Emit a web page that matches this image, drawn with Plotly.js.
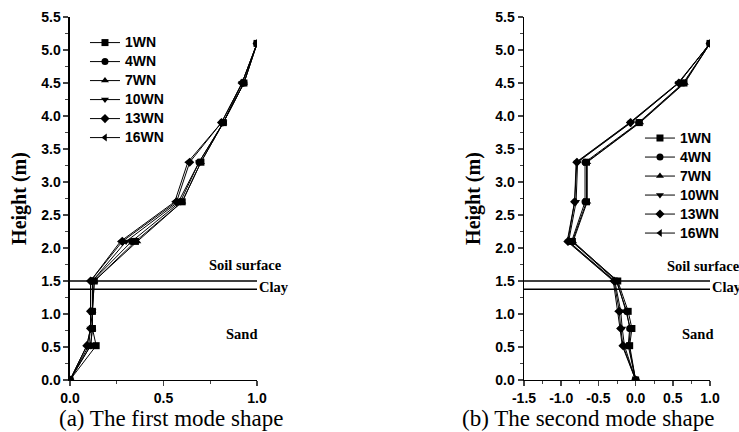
<!DOCTYPE html>
<html>
<head>
<meta charset="utf-8">
<script src="https://cdn.plot.ly/plotly-3.0.1.min.js"></script>
<style>html,body{margin:0;padding:0;background:#fff;}#chart{width:739px;height:432px;}</style>
</head>
<body>
<div id="chart"></div>
<script>
// ---- data ----
const heights = [0, 0.52, 0.78, 1.04, 1.5, 2.1, 2.7, 3.3, 3.9, 4.5, 5.1];
const seriesNames = ["1WN", "4WN", "7WN", "10WN", "13WN", "16WN"];
const mode1_1WN  = [0, 0.14, 0.12, 0.12, 0.13, 0.35, 0.60, 0.70, 0.82, 0.93, 1.0];
const mode1_4WN  = [0, 0.11, 0.12, 0.12, 0.12, 0.33, 0.59, 0.69, 0.82, 0.93, 1.0];
const mode1_7WN  = [0, 0.11, 0.12, 0.12, 0.13, 0.36, 0.60, 0.70, 0.82, 0.93, 1.0];
const mode1_10WN = [0, 0.10, 0.11, 0.12, 0.12, 0.30, 0.58, 0.69, 0.82, 0.92, 1.0];
const mode1_13WN = [0, 0.09, 0.11, 0.11, 0.11, 0.28, 0.57, 0.64, 0.81, 0.92, 1.0];
const mode1_16WN = [0, 0.09, 0.11, 0.11, 0.11, 0.27, 0.56, 0.63, 0.81, 0.92, 1.0];
const mode2_1WN  = [0, -0.08, -0.05, -0.10, -0.24, -0.85, -0.66, -0.66, 0.05, 0.65, 1.0];
const mode2_4WN  = [0, -0.10, -0.08, -0.12, -0.26, -0.86, -0.68, -0.68, 0.04, 0.64, 1.0];
const mode2_7WN  = [0, -0.09, -0.07, -0.13, -0.25, -0.84, -0.65, -0.65, 0.06, 0.66, 1.0];
const mode2_10WN = [0, -0.15, -0.18, -0.20, -0.28, -0.90, -0.80, -0.78, -0.06, 0.58, 1.0];
const mode2_13WN = [0, -0.17, -0.20, -0.22, -0.29, -0.91, -0.82, -0.79, -0.07, 0.58, 1.0];
const mode2_16WN = [0, -0.18, -0.21, -0.24, -0.30, -0.92, -0.82, -0.80, -0.08, 0.57, 1.0];
const soilSurface = 1.5;
const clayTop = 1.375;
const xTicks1 = [0, 0.5, 1.0];
const xTickLabels1 = ["0.0", "0.5", "1.0"];
const xTicks2 = [-1.5, -1.0, -0.5, 0, 0.5, 1.0];
const xTickLabels2 = ["-1.5", "-1.0", "-0.5", "0.0", "0.5", "1.0"];
const yTicks = [0, 0.5, 1, 1.5, 2, 2.5, 3, 3.5, 4, 4.5, 5, 5.5];
const yTickLabels = ["0.0","0.5","1.0","1.5","2.0","2.5","3.0","3.5","4.0","4.5","5.0","5.5"];
const yTitle = "Height (m)";
const caption1 = "(a) The first mode shape";
const caption2 = "(b) The second mode shape";

const mode1 = [mode1_1WN, mode1_4WN, mode1_7WN, mode1_10WN, mode1_13WN, mode1_16WN];
const mode2 = [mode2_1WN, mode2_4WN, mode2_7WN, mode2_10WN, mode2_13WN, mode2_16WN];
const symbols = ["square", "circle", "triangle-up", "triangle-down", "diamond", "triangle-left"];
const bold = s => "<b>" + s + "</b>";
const legName = s => '<span style="font-size:14px"><b>' + s + "</b></span>";

const traces = [];
mode1.forEach((xs, i) => traces.push({
  x: xs, y: heights, name: legName(seriesNames[i]), type: "scatter", mode: "lines+markers",
  xaxis: "x", yaxis: "y", legend: "legend",
  line: {color: "#000", width: 1}, marker: {symbol: symbols[i], size: 7, color: "#000"}
}));
mode2.forEach((xs, i) => traces.push({
  x: xs, y: heights, name: legName(seriesNames[i]), type: "scatter", mode: "lines+markers",
  xaxis: "x2", yaxis: "y2", legend: "legend2",
  line: {color: "#000", width: 1}, marker: {symbol: symbols[i], size: 7, color: "#000"}
}));
// boundary lines
[["x","y",0,1.0],["x2","y2",-1.5,1.0]].forEach(a => {
  [soilSurface, clayTop].forEach(h => traces.push({
    x: [a[2], a[3]], y: [h, h], type: "scatter", mode: "lines", xaxis: a[0], yaxis: a[1],
    showlegend: false, hoverinfo: "skip", line: {color: "#000", width: 1.5}, cliponaxis: false
  }));
});

const tickFont = {family: "Liberation Sans, Arial, sans-serif", size: 14, color: "#000"};
const titleFont = {family: "Liberation Serif, Times New Roman, serif", size: 20, color: "#000"};
const labelFont = {family: "Liberation Serif, Times New Roman, serif", size: 14.5, color: "#000"};
const captionFont = {family: "Liberation Serif, Times New Roman, serif", size: 23, color: "#000"};

function yax(anchor) {
  return {domain: [0.1204, 0.9606], anchor: anchor, range: [0, 5.5], tickmode: "array",
    tickvals: yTicks, ticktext: yTickLabels.map(bold), ticks: "outside", ticklen: 5, tickwidth: 1.5,
    minor: {dtick: 0.25, ticks: "outside", ticklen: 3, tickwidth: 1},
    showline: true, linewidth: 1.5, linecolor: "#000", showgrid: false, zeroline: false,
    tickfont: tickFont, title: {text: bold(yTitle), font: titleFont, standoff: 9}};
}
function xax(dom, anchor, rng, tv, tt) {
  return {domain: dom, anchor: anchor, range: rng, tickmode: "array", tickvals: tv, ticktext: tt.map(bold),
    ticks: "outside", ticklen: 5, tickwidth: 1.5,
    minor: {dtick: 0.25, ticks: "outside", ticklen: 3, tickwidth: 1},
    showline: true, linewidth: 1.5, linecolor: "#000", showgrid: false, zeroline: false,
    tickfont: tickFont};
}
const legFont = {family: "Liberation Sans, Arial, sans-serif", size: 11.7, color: "#000"};

const layout = {
  width: 739, height: 432, margin: {l: 0, r: 0, t: 0, b: 0},
  paper_bgcolor: "#fff", plot_bgcolor: "#fff", showlegend: true,
  xaxis: xax([0.0947, 0.3478], "y", [0, 1.0], xTicks1, xTickLabels1),
  yaxis: yax("x"),
  xaxis2: xax([0.7091, 0.9608], "y2", [-1.5, 1.0], xTicks2, xTickLabels2),
  yaxis2: yax("x2"),
  legend: {x: 0.115, y: 0.935, xanchor: "left", yanchor: "top", bgcolor: "rgba(0,0,0,0)",
    font: legFont, tracegroupgap: 0, itemwidth: 30},
  legend2: {x: 0.866, y: 0.714, xanchor: "left", yanchor: "top", bgcolor: "rgba(0,0,0,0)",
    font: legFont, tracegroupgap: 0, itemwidth: 30},
  annotations: [
    {xref: "x", yref: "y", x: 0.94, y: 1.74, text: bold("Soil surface"), showarrow: false, font: labelFont},
    {xref: "x", yref: "y", x: 1.0, y: 1.41, text: bold("Clay"), showarrow: false, xanchor: "left", font: labelFont},
    {xref: "x", yref: "y", x: 0.915, y: 0.70, text: bold("Sand"), showarrow: false, font: labelFont},
    {xref: "x2", yref: "y2", x: 0.40, y: 1.72, text: bold("Soil surface"), showarrow: false, xanchor: "left", font: labelFont},
    {xref: "x2", yref: "y2", x: 1.0, y: 1.41, text: bold("Clay"), showarrow: false, xanchor: "left", font: labelFont},
    {xref: "x2", yref: "y2", x: 0.825, y: 0.70, text: bold("Sand"), showarrow: false, font: labelFont},
    {xref: "paper", yref: "paper", x: 0.2316, y: 0.032, xanchor: "center", yanchor: "middle", text: caption1, showarrow: false, font: captionFont},
    {xref: "paper", yref: "paper", x: 0.7957, y: 0.032, xanchor: "center", yanchor: "middle", text: caption2, showarrow: false, font: captionFont}
  ]
};

Plotly.newPlot("chart", traces, layout, {displayModeBar: false, staticPlot: true});
</script>
</body>
</html>
